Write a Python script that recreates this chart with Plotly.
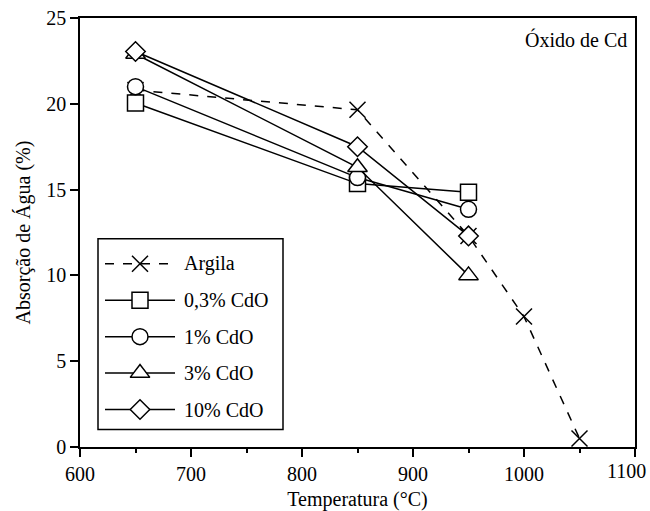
import plotly.graph_objects as go

# ---- data ----
temps_argila = [650, 850, 950, 1000, 1050]
argila = [20.8, 19.65, 12.3, 7.6, 0.5]

temps_cdo = [650, 850, 950]
cdo_03 = [20.05, 15.35, 14.85]
cdo_1 = [21.0, 15.7, 13.85]
cdo_3 = [22.9, 16.3, 10.0]
cdo_10 = [23.05, 17.5, 12.3]

x_ticks = [600, 700, 800, 900, 1000, 1100]
x_ticktext = ["600", "700", "800", "900", "1000", ""]
last_x_label = "1100"
y_ticks = [0, 5, 10, 15, 20, 25]

names = ["Argila", "0,3% CdO", "1% CdO", "3% CdO", "10% CdO"]
symbols = ["x-thin", "square", "circle", "triangle-up", "diamond"]
dashes = ["dash", "solid", "solid", "solid", "solid"]
sizes = [16, 16, 16, 17, 15]

xs = [temps_argila, temps_cdo, temps_cdo, temps_cdo, temps_cdo]
ys = [argila, cdo_03, cdo_1, cdo_3, cdo_10]

FONT = "Liberation Serif, Times New Roman, serif"
FS = 20
TXT = dict(family=FONT, size=FS, color="black")

# plot area in pixels
L, R, T, B = 80, 635, 18, 447.5
W, H = 650, 511


def px(x):
    return (x - L) / (R - L)


def py(y):
    return (B - y) / (B - T)


fig = go.Figure()

for i in range(5):
    fig.add_trace(go.Scatter(
        x=xs[i], y=ys[i], mode="lines+markers", name=names[i],
        showlegend=False,
        line=dict(color="black", width=1.5, dash=dashes[i]),
        marker=dict(symbol=symbols[i], size=sizes[i], color="white",
                    line=dict(color="black", width=1.5)),
    ))

# ---- custom legend ----
leg_y = [264, 300.5, 337, 373.5, 410]
for i in range(5):
    yy = py(leg_y[i])
    fig.add_trace(go.Scatter(
        x=[px(105), px(175)], y=[yy, yy], mode="lines", xaxis="x2", yaxis="y2",
        showlegend=False, hoverinfo="skip",
        line=dict(color="black", width=1.5, dash=dashes[i]),
    ))
    fig.add_trace(go.Scatter(
        x=[px(140)], y=[yy], mode="markers", xaxis="x2", yaxis="y2",
        showlegend=False, hoverinfo="skip",
        marker=dict(symbol=symbols[i], size=sizes[i], color="white",
                    line=dict(color="black", width=1.5)),
    ))
    fig.add_annotation(x=px(182), y=yy, xref="paper", yref="paper",
                       text=names[i], showarrow=False, xanchor="left",
                       yanchor="middle", font=TXT)

fig.add_shape(type="rect", xref="paper", yref="paper",
              x0=px(98), x1=px(283), y0=py(430), y1=py(239),
              line=dict(color="black", width=1.5), fillcolor="white", layer="below")

fig.add_annotation(x=px(629), y=py(40), xref="paper", yref="paper",
                   text="Óxido de Cd", showarrow=False, xanchor="right",
                   yanchor="middle", font=TXT)

# last x tick label, nudged left so it stays inside the page
fig.add_annotation(x=px(648), y=py(472), xref="paper", yref="paper",
                   text=last_x_label, showarrow=False, xanchor="right",
                   yanchor="middle", font=TXT)

axis_common = dict(
    showline=True, linecolor="black", linewidth=1.5, mirror=True,
    ticks="outside", ticklen=8, tickwidth=1.5, tickcolor="black",
    showgrid=False, zeroline=False, automargin=False,
    tickfont=TXT,
)

fig.update_layout(
    width=W, height=H,
    font=TXT,
    margin=dict(l=L, r=W - R, t=T, b=H - B),
    plot_bgcolor="white", paper_bgcolor="white",
    xaxis=dict(range=[600, 1100], tickvals=x_ticks, ticktext=x_ticktext,
               minor=dict(tickvals=[650, 750, 850, 950, 1050], ticks="outside",
                          ticklen=4, tickwidth=1.5, tickcolor="black"),
               title=dict(text="Temperatura (°C)", font=TXT, standoff=8),
               **axis_common),
    yaxis=dict(range=[0, 25], tickvals=y_ticks,
               title=dict(text="Absorção de Água (%)", font=TXT, standoff=10),
               **axis_common),
    xaxis2=dict(overlaying="x", range=[0, 1], visible=False, domain=[0, 1]),
    yaxis2=dict(overlaying="y", range=[0, 1], visible=False, domain=[0, 1]),
    showlegend=False,
)

fig.write_html("out.html")
